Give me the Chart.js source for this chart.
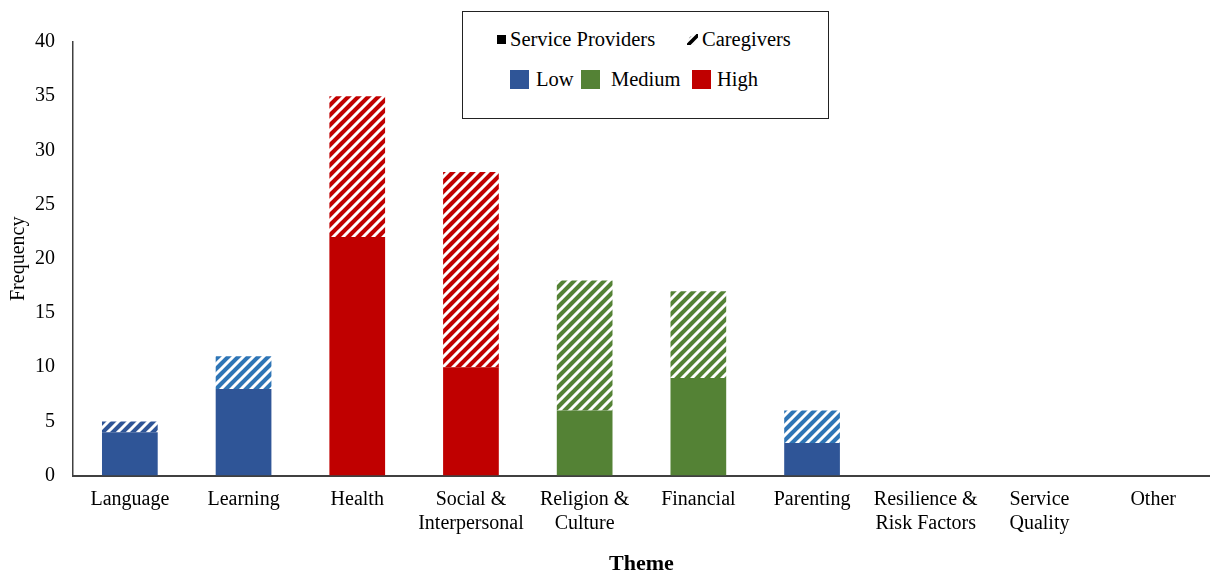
<!DOCTYPE html>
<html>
<head>
<meta charset="utf-8">
<script src="https://cdn.jsdelivr.net/npm/chart.js@4"></script>
<style>
  html, body { margin: 0; padding: 0; background: #fff; }
  #wrap { position: relative; width: 1210px; height: 574px; }
  #legend {
    position: absolute; left: 462px; top: 11px; width: 365px; height: 106px;
    border: 1.5px solid #222; background: #fff;
    font-family: "Liberation Serif", "Times New Roman", serif; font-size: 20.5px; color: #000;
  }
  .item { position: absolute; display: flex; align-items: center; white-space: nowrap; }
  .sw { display: inline-block; margin-right: 6px; }
</style>
</head>
<body>
<div id="wrap">
  <canvas id="chart1" width="1210" height="574"></canvas>
  <div id="legend"></div>
</div>
<script>
const themes = [["Language"], ["Learning"], ["Health"], ["Social &", "Interpersonal"],
    ["Religion &", "Culture"], ["Financial"], ["Parenting"], ["Resilience &", "Risk Factors"],
    ["Service", "Quality"], ["Other"]];
const serviceProviders = [4, 8, 22, 10, 6, 9, 3, 0, 0, 0];
const caregivers = [1, 3, 13, 18, 12, 8, 3, 0, 0, 0];
const levels = ["Low", "Low", "High", "High", "Medium", "Medium", "Low", "Low", "Low", "Low"];
const yTicks = [0, 5, 10, 15, 20, 25, 30, 35, 40];

const levelColors = { Low: "#2F5597", Medium: "#548235", High: "#C00000" };
// hatch colour for caregivers (lighter blue on Learning / Parenting)
const hatchColors = ["#2F5597", "#2E75B6", "#C00000", "#C00000", "#548235", "#548235", "#2E75B6", "#2E75B6", "#2E75B6", "#2E75B6"];

function hatch(color, size, lw) {
    size = size || 10;
    lw = lw || 3;
    const c = document.createElement("canvas");
    c.width = size; c.height = size;
    const ctx = c.getContext("2d");
    ctx.fillStyle = color;
    ctx.fillRect(0, 0, size, size);
    ctx.strokeStyle = "#fff";
    ctx.lineWidth = lw;
    ctx.beginPath();
    ctx.moveTo(-size / 2, size / 2); ctx.lineTo(size / 2, -size / 2);
    ctx.moveTo(0, size); ctx.lineTo(size, 0);
    ctx.moveTo(size / 2, size * 1.5); ctx.lineTo(size * 1.5, size / 2);
    ctx.stroke();
    return ctx.createPattern(c, "repeat");
}

const font = "'Liberation Serif', 'Times New Roman', serif";

let chart1 = document.getElementById("chart1");

new Chart(chart1, {
    type: 'bar',
    data: {
        labels: themes,
        datasets: [
            {
                label: "Service Providers",
                data: serviceProviders,
                backgroundColor: levels.map(l => levelColors[l]),
                barPercentage: 0.49,
                categoryPercentage: 1
            },
            {
                label: "Caregivers",
                data: caregivers,
                backgroundColor: hatchColors.map(c => hatch(c)),
                barPercentage: 0.49,
                categoryPercentage: 1
            }
        ]
    },
    options: {
        responsive: false,
        animation: false,
        layout: {
            padding: { left: 7, right: 0, top: 42, bottom: 0 }
        },
        plugins: {
            legend: { display: false },
            tooltip: { enabled: false }
        },
        scales: {
            x: {
                stacked: true,
                grid: { display: false, drawTicks: false },
                border: { color: "#404040", width: 2 },
                ticks: {
                    color: "#000",
                    font: { family: font, size: 20 },
                    padding: 12,
                    maxRotation: 0,
                    autoSkip: false
                },
                title: {
                    display: true,
                    text: "Theme",
                    color: "#000",
                    font: { family: font, size: 22, weight: "bold" },
                    padding: { top: 4, bottom: -4 }
                }
            },
            y: {
                stacked: true,
                min: 0,
                max: 40,
                afterBuildTicks: axis => { axis.ticks = yTicks.map(v => ({ value: v })); },
                grid: { display: false, drawTicks: false },
                border: { color: "#404040", width: 1.5 },
                ticks: {
                    color: "#000",
                    font: { family: font, size: 20 },
                    padding: 18
                },
                title: {
                    display: true,
                    text: "Frequency",
                    color: "#000",
                    font: { family: font, size: 20 },
                    padding: { top: 0, bottom: -14 }
                }
            }
        }
    }
});

// legend box
const legend = document.getElementById("legend");
function addItem(x, y, swatch, text) {
    const d = document.createElement("div");
    d.className = "item";
    d.style.left = x + "px";
    d.style.top = y + "px";
    d.appendChild(swatch);
    const s = document.createElement("span");
    s.textContent = text;
    d.appendChild(s);
    legend.appendChild(d);
}
function box(w, color, gap) {
    const s = document.createElement("span");
    s.className = "sw";
    s.style.width = w + "px";
    s.style.height = w + "px";
    s.style.background = color;
    s.style.marginRight = gap + "px";
    return s;
}
function hatchIcon() {
    const c = document.createElement("canvas");
    c.width = 11; c.height = 11;
    c.className = "sw";
    c.style.marginRight = "4px";
    const ctx = c.getContext("2d");
    ctx.fillStyle = hatch("#000", 8, 2);
    ctx.beginPath();
    ctx.moveTo(0, 9); ctx.lineTo(3, 3); ctx.lineTo(9, 0); ctx.lineTo(11, 0);
    ctx.lineTo(11, 5); ctx.lineTo(6, 11); ctx.lineTo(0, 11);
    ctx.closePath();
    ctx.fill();
    return c;
}
addItem(34, 16, box(9, "#000", 4), "Service Providers");
addItem(224, 16, hatchIcon(), "Caregivers");
addItem(47, 56, box(19, levelColors.Low, 7), "Low");
addItem(118, 56, box(19, levelColors.Medium, 11), "Medium");
addItem(229, 56, box(19, levelColors.High, 6), "High");
</script>
</body>
</html>
